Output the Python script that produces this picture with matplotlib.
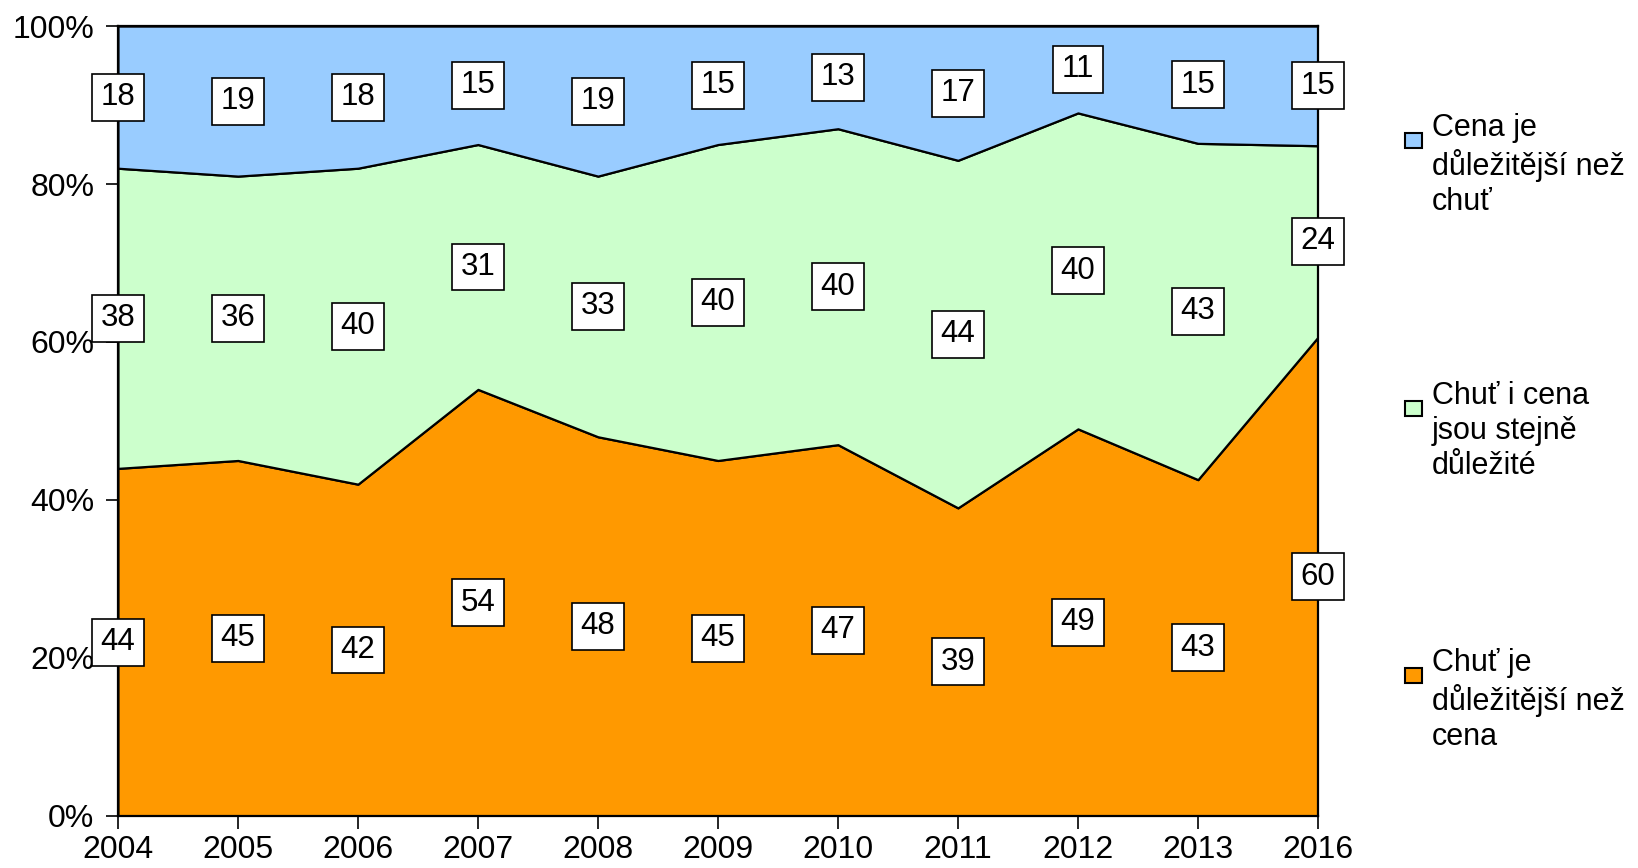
import numpy as np
import matplotlib
matplotlib.use("Agg")
import matplotlib.pyplot as plt
from matplotlib.patches import Rectangle

plt.rcParams['font.family'] = ['Liberation Sans', 'DejaVu Sans']

roky = ['2004', '2005', '2006', '2007', '2008', '2009', '2010', '2011', '2012', '2013', '2016']
chut = [44, 45, 42, 54, 48, 45, 47, 39, 49, 43, 60]
obe = [38, 36, 40, 31, 33, 40, 40, 44, 40, 43, 24]
cena = [18, 19, 18, 15, 19, 15, 13, 17, 11, 15, 15]

nazvy = ['Chuť je\ndůležitější než\ncena',
         'Chuť i cena\njsou stejně\ndůležité',
         'Cena je\ndůležitější než\nchuť']
barvy = ['#FF9900', '#CCFFCC', '#99CCFF']

data = np.array([chut, obe, cena], dtype=float)
proc = data / data.sum(axis=0) * 100
x = np.arange(len(roky))

fig = plt.figure(figsize=(16.38, 8.68), dpi=100)
ax = fig.add_axes([0.072, 0.06, 0.7326, 0.91])

ax.stackplot(x, proc, colors=barvy, edgecolor='black', linewidth=1.6)

# popisky uprostred kazdeho pasu
dole = np.zeros(len(roky))
for i in range(3):
    stred = dole + proc[i] / 2
    for j in range(len(roky)):
        ax.text(x[j], stred[j], str(int(data[i, j])), ha='center', va='center',
                fontsize=22.5, zorder=5,
                bbox=dict(boxstyle='square,pad=0.27', fc='white', ec='black', lw=1.2))
    dole = dole + proc[i]

ax.set_xlim(0, len(roky) - 1)
ax.set_ylim(0, 100)
ax.set_xticks(x)
ax.set_xticklabels(roky)
ax.set_yticks(range(0, 101, 20))
ax.set_yticklabels(['%d%%' % v for v in range(0, 101, 20)])
ax.tick_params(axis='both', labelsize=23, direction='out', length=9, width=1.2, color='black')
ax.tick_params(axis='x', pad=5)
ax.tick_params(axis='y', pad=8)
for s in ax.spines.values():
    s.set_linewidth(1.6)
    s.set_color('black')

# legenda
W, H = 1638.0, 868.0
pozice = [697, 430, 162]
for i in range(3):
    ytop = 1 - (pozice[i] - 36) / H
    fig.patches.append(Rectangle((1405 / W, ytop - 22 / H), 17 / W, 15 / H,
                                 transform=fig.transFigure, fc=barvy[i], ec='black', lw=1.5))
    fig.text(1432 / W, ytop + 13 / H, nazvy[i], fontsize=22, va='top', ha='left',
             linespacing=1.22)

fig.savefig('out.png', dpi=100)
